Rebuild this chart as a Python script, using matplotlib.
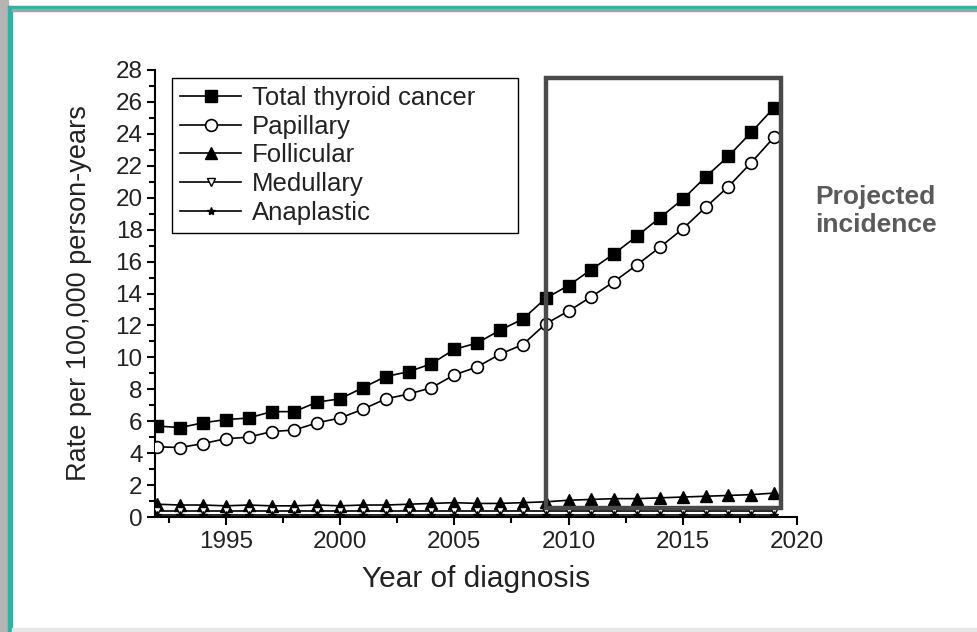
import matplotlib
matplotlib.use("Agg")
import matplotlib.pyplot as plt
from matplotlib.patches import Rectangle
from matplotlib.ticker import MultipleLocator

plt.rcParams['font.family'] = ['Liberation Sans', 'DejaVu Sans']

years = list(range(1992, 2020))
total = [5.7, 5.6, 5.9, 6.1, 6.2, 6.6, 6.6, 7.2, 7.4, 8.1, 8.8, 9.1, 9.6, 10.5,
         10.9, 11.7, 12.4, 13.7, 14.5, 15.5, 16.5, 17.6, 18.75, 19.9, 21.3, 22.6, 24.1, 25.65]
papillary = [4.4, 4.35, 4.6, 4.9, 5.0, 5.35, 5.45, 5.9, 6.2, 6.75, 7.4, 7.7, 8.1, 8.9,
             9.4, 10.2, 10.8, 12.1, 12.9, 13.8, 14.75, 15.8, 16.9, 18.05, 19.4, 20.7, 22.2, 23.8]
follicular = [0.8, 0.75, 0.75, 0.7, 0.75, 0.7, 0.7, 0.75, 0.7, 0.75, 0.75, 0.8, 0.85, 0.9,
              0.85, 0.85, 0.9, 0.95, 1.05, 1.1, 1.15, 1.15, 1.2, 1.25, 1.3, 1.35, 1.4, 1.5]
medullary = [0.4] * 28
anaplastic = [0.15] * 28
labels = ["Total thyroid cancer", "Papillary", "Follicular", "Medullary", "Anaplastic"]
proj_start, proj_end = 2009, 2019.3

fig = plt.figure(figsize=(9.77, 6.32), dpi=100)
fig.patch.set_facecolor('white')

# outer frame decorations
fig.patches.append(Rectangle((0, 0), 8/977, 1, transform=fig.transFigure, color='#b4b4b4', zorder=0))
fig.patches.append(Rectangle((8/977, 0), 4/977, 1 - 6/632, transform=fig.transFigure, color='#2bb3a6', zorder=1))
fig.patches.append(Rectangle((8/977, 1 - 9/632), 1 - 8/977, 3/632, transform=fig.transFigure, color='#2bb3a6', zorder=1))
fig.patches.append(Rectangle((12/977, 1 - 11/632), 1 - 12/977, 2/632, transform=fig.transFigure, color='#9aa6a5', zorder=1))
fig.patches.append(Rectangle((12/977, 0), 1 - 12/977, 4/632, transform=fig.transFigure, color='#e6e6e6', zorder=1))

ax = fig.add_axes([155/977, 1 - 517/632, 642/977, 447/632])
ax.set_facecolor('none')

ax.plot(years, total, '-s', color='black', lw=1.2, ms=8, mfc='black', mec='black', label=labels[0], zorder=5)
ax.plot(years, papillary, '-o', color='black', lw=1.2, ms=8.5, mfc='white', mec='black', mew=1.2, label=labels[1], zorder=5)
ax.plot(years, follicular, '-^', color='black', lw=1.2, ms=8.5, mfc='black', mec='black', label=labels[2], zorder=5)
ax.plot(years, medullary, '-v', color='black', lw=1.2, ms=6, mfc='white', mec='black', mew=1, label=labels[3], zorder=5)
ax.plot(years, anaplastic, '-*', color='black', lw=1.2, ms=6, mfc='black', mec='black', label=labels[4], zorder=5)

ax.add_patch(Rectangle((proj_start, 0.55), proj_end - proj_start, 27.5 - 0.55,
                       fill=False, edgecolor='#4a4a4a', lw=3.2, zorder=6, clip_on=False))

ax.set_xlim(1991.9, 2020)
ax.set_ylim(0, 28)
ax.xaxis.set_minor_locator(MultipleLocator(2.5))
ax.yaxis.set_major_locator(MultipleLocator(2))
ax.yaxis.set_minor_locator(MultipleLocator(1))
ax.set_xticks([1995, 2000, 2005, 2010, 2015, 2020])
ax.spines['top'].set_visible(False)
ax.spines['right'].set_visible(False)
for s in ('left', 'bottom'):
    ax.spines[s].set_linewidth(1.5)
ax.tick_params(which='major', direction='out', length=6, width=1.5, labelsize=17.5, color='black', labelcolor='#222222')
ax.tick_params(which='minor', direction='out', length=4, width=1.5)
ax.tick_params(axis='x', pad=4)
ax.tick_params(axis='y', pad=3)

ax.set_xlabel("Year of diagnosis", fontsize=21.5, color='#222222', labelpad=9)
ax.set_ylabel("Rate per 100,000 person-years", fontsize=19.5, color='#222222', labelpad=17)

leg = ax.legend(loc='upper left', bbox_to_anchor=(17/642, 0.6, 346/642, 439/447 - 0.6),
                mode='expand', fontsize=18.5,
                frameon=True, fancybox=False, edgecolor='black', framealpha=1,
                handlelength=2.4, handletextpad=0.4, labelspacing=0.19, borderpad=0.3,
                borderaxespad=0)
leg.get_frame().set_linewidth(1.0)
for t in leg.get_texts():
    t.set_color('#222222')

fig.text(815/977, 1 - 211/632, "Projected\nincidence", fontsize=19, fontweight='bold',
         color='#5a5a5a', ha='left', va='center', linespacing=1.2)

fig.savefig("out.png", dpi=100)
